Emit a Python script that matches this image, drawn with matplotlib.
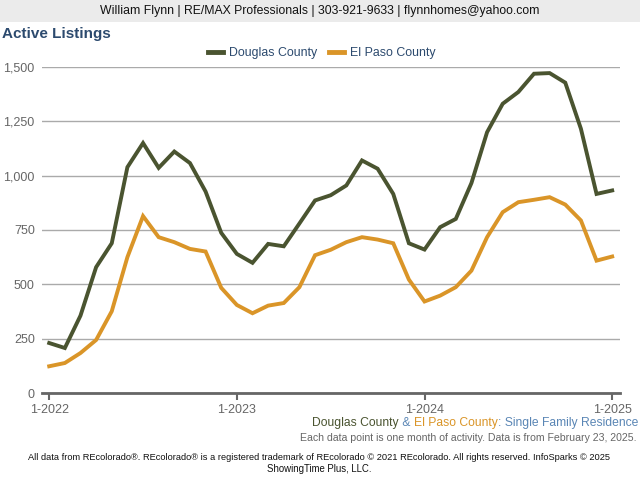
import matplotlib
matplotlib.use("Agg")
import matplotlib.pyplot as plt
from matplotlib.lines import Line2D
from matplotlib.patches import Rectangle

plt.rcParams["font.family"] = ["Liberation Sans", "DejaVu Sans"]

# monthly active listings, 1-2022 .. 1-2025
months = list(range(37))
douglas = [230, 207, 356, 579, 689, 1039, 1150, 1036, 1111, 1058, 927, 737,
           640, 599, 686, 675, 780, 886, 910, 955, 1070, 1032, 916, 689,
           660, 763, 801, 966, 1200, 1331, 1385, 1469, 1472, 1428, 1216, 916,
           932]
el_paso = [123, 138, 184, 244, 376, 625, 814, 717, 694, 663, 651, 484,
           405, 367, 402, 414, 487, 634, 659, 694, 717, 706, 689, 522,
           421, 448, 487, 563, 717, 832, 878, 889, 901, 867, 794, 609,
           628]
tick_pos = [0, 12, 24, 36]
tick_labels = ["1-2022", "1-2023", "1-2024", "1-2025"]
y_ticks = [0, 250, 500, 750, 1000, 1250, 1500]

c_doug = "#4a5430"
c_elp = "#da9528"
c_blue = "#2c4a6e"
c_sub = "#5a86b5"
grey = "#666666"

fig = plt.figure(figsize=(6.4, 4.8), dpi=100)

# header band
fig.patches.append(Rectangle((0, 1 - 22 / 480), 1, 22 / 480, transform=fig.transFigure,
                             facecolor="#ebebeb", edgecolor="none", zorder=0))
fig.text(0.5, 1 - 11 / 480, "William Flynn | RE/MAX Professionals | 303-921-9633 | flynnhomes@yahoo.com",
         ha="center", va="center", fontsize=8.8, color="#111111")
fig.text(2 / 640, 1 - 34 / 480, "Active Listings", ha="left", va="center",
         fontsize=11, fontweight="bold", color=c_blue)

ax = fig.add_axes([41.7 / 640, 1 - 393 / 480, (620 - 41.7) / 640, (393 - 67) / 480])
ax.plot(months, douglas, color=c_doug, lw=2.8, solid_joinstyle="miter", zorder=3)
ax.plot(months, el_paso, color=c_elp, lw=2.8, solid_joinstyle="miter", zorder=3)

ax.set_xlim(-0.48, 36.5)
ax.set_ylim(0, 1500)
ax.set_yticks(y_ticks)
ax.set_yticklabels([f"{v:,}" for v in y_ticks])
ax.set_xticks(tick_pos)
ax.set_xticklabels(tick_labels)
ax.grid(axis="y", color="#aaaaaa", lw=1)
ax.set_axisbelow(True)
for s in ["top", "right", "left"]:
    ax.spines[s].set_visible(False)
ax.spines["bottom"].set_color("#666666")
ax.spines["bottom"].set_linewidth(2)
ax.tick_params(axis="y", length=0, pad=5, labelsize=9, labelcolor=grey)
ax.tick_params(axis="x", length=5, width=1.5, color="#666666", pad=3,
               labelsize=9, labelcolor=grey)

handles = [Line2D([], [], color=c_doug, lw=3.5), Line2D([], [], color=c_elp, lw=3.5)]
fig.legend(handles, ["Douglas County", "El Paso County"], loc="center",
           bbox_to_anchor=(0.503, 1 - 53 / 480), ncol=2, frameon=False,
           fontsize=8.9, handlelength=1.2, handletextpad=0.45, columnspacing=1.0,
           labelcolor=c_blue)

# multi-coloured subtitle on one baseline, laid out right to left
parts = [("Douglas County", c_doug), (" & ", c_sub), ("El Paso County", c_elp),
         (": Single Family Residence", c_sub)]
renderer = fig.canvas.get_renderer()
x_right = 638
base_y = 1 - 426 / 480
for txt, col in reversed(parts):
    t = fig.text(x_right / 640, base_y, txt, ha="right", va="baseline",
                 fontsize=8.7, color=col)
    # measure with a plain placeholder so spaces count in the width
    w = t.get_window_extent(renderer).width
    probe = fig.text(0, 0, txt.replace(" ", "\u00a0"), fontsize=8.7)
    w = max(w, probe.get_window_extent(renderer).width)
    probe.remove()
    x_right -= w

fig.text(637 / 640, 1 - 438 / 480,
         "Each data point is one month of activity. Data is from February 23, 2025.",
         ha="right", va="center", fontsize=7.6, color=grey)
fig.text(319 / 640, 1 - 457 / 480,
         "All data from REcolorado®. REcolorado® is a registered trademark of REcolorado © 2021 REcolorado. All rights reserved. InfoSparks © 2025",
         ha="center", va="center", fontsize=6.7, color="#111111")
fig.text(319 / 640, 1 - 469 / 480, "ShowingTime Plus, LLC.",
         ha="center", va="center", fontsize=6.9, color="#111111")

fig.savefig("out.png", dpi=100)
